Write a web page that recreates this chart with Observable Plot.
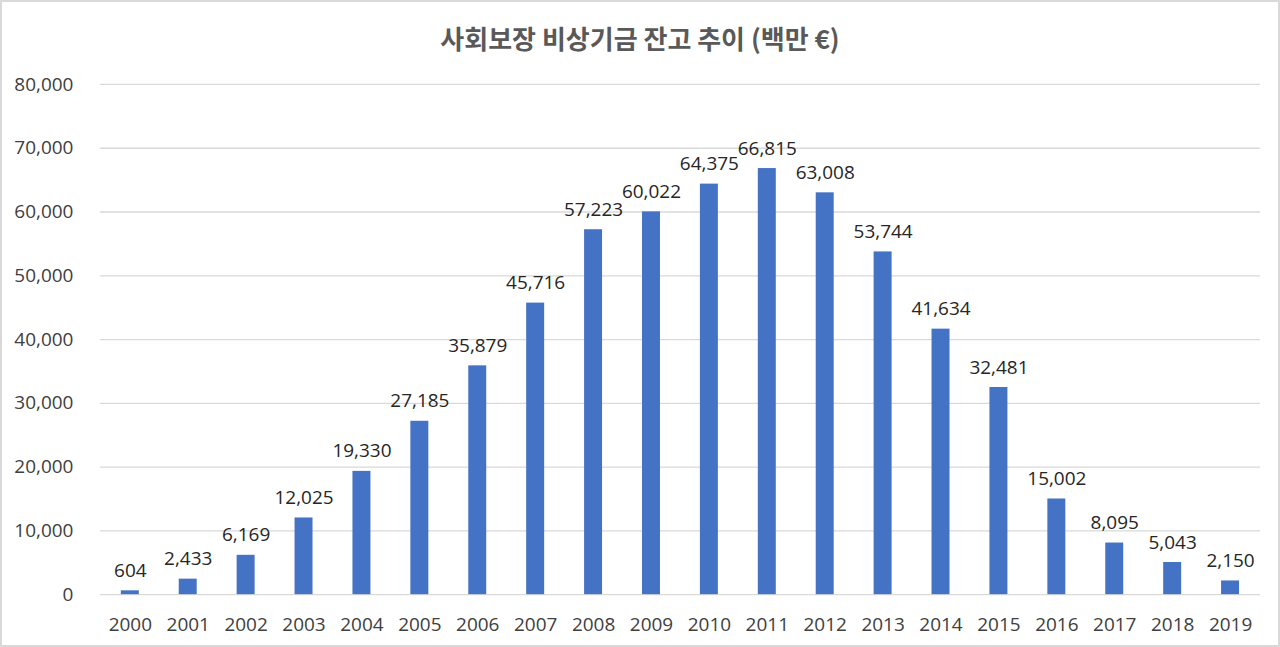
<!DOCTYPE html>
<html>
<head>
<meta charset="utf-8">
<script src="https://cdn.jsdelivr.net/npm/d3@7"></script>
<script src="https://cdn.jsdelivr.net/npm/@observablehq/plot@0.6"></script>
<style>
  html, body { margin: 0; padding: 0; background: #fff; }
  #wrap { position: relative; width: 1280px; height: 647px; box-sizing: border-box; border: 2px solid #d9d9d9; overflow: hidden; }
  #title { position: absolute; left: 0; top: 18px; width: 1276px; text-align: center; font-family: "Noto Sans CJK KR", "Noto Sans", sans-serif; font-weight: bold; font-size: 26px; line-height: 36px; color: #595959; }
  #chart { position: absolute; left: -2px; top: 62px; }
  #chart svg { font-family: "Open Sans", "Noto Sans", sans-serif; }
  #chart svg text { font-size: 19px; }
</style>
</head>
<body>
<div id="wrap">
  <div id="title">사회보장 비상기금 잔고 추이 (백만 €)</div>
  <div id="chart"></div>
</div>
<script>
const years = ["2000","2001","2002","2003","2004","2005","2006","2007","2008","2009","2010","2011","2012","2013","2014","2015","2016","2017","2018","2019"];
const balances = [604, 2433, 6169, 12025, 19330, 27185, 35879, 45716, 57223, 60022, 64375, 66815, 63008, 53744, 41634, 32481, 15002, 8095, 5043, 2150];
const yTicks = [0, 10000, 20000, 30000, 40000, 50000, 60000, 70000, 80000];

const data = years.map((y, i) => ({year: y, value: balances[i]}));
const fmt = d3.format(",");

const chart = Plot.plot({
  width: 1280,
  height: 583,
  marginTop: 20,
  marginBottom: 52,
  marginLeft: 100,
  marginRight: 18,
  style: {fontSize: "19px", color: "#404040", background: "transparent"},
  x: {domain: years, paddingInner: 0.69, paddingOuter: 0.345, label: null, tickSize: 0, tickPadding: 23},
  y: {domain: [0, 80000], ticks: yTicks, tickFormat: fmt, label: null, tickSize: 0, tickPadding: 27},
  marks: [
    Plot.gridY(yTicks, {stroke: "#d9d9d9", strokeOpacity: 1, strokeWidth: 1.3}),
    Plot.barY(data, {x: "year", y: "value", fill: "#4472C4"}),
    Plot.text(data, {x: "year", y: "value", text: d => fmt(d.value), lineAnchor: "bottom", dy: -14, fill: "#262626", fontSize: 19})
  ]
});
document.getElementById("chart").appendChild(chart);
</script>
</body>
</html>
